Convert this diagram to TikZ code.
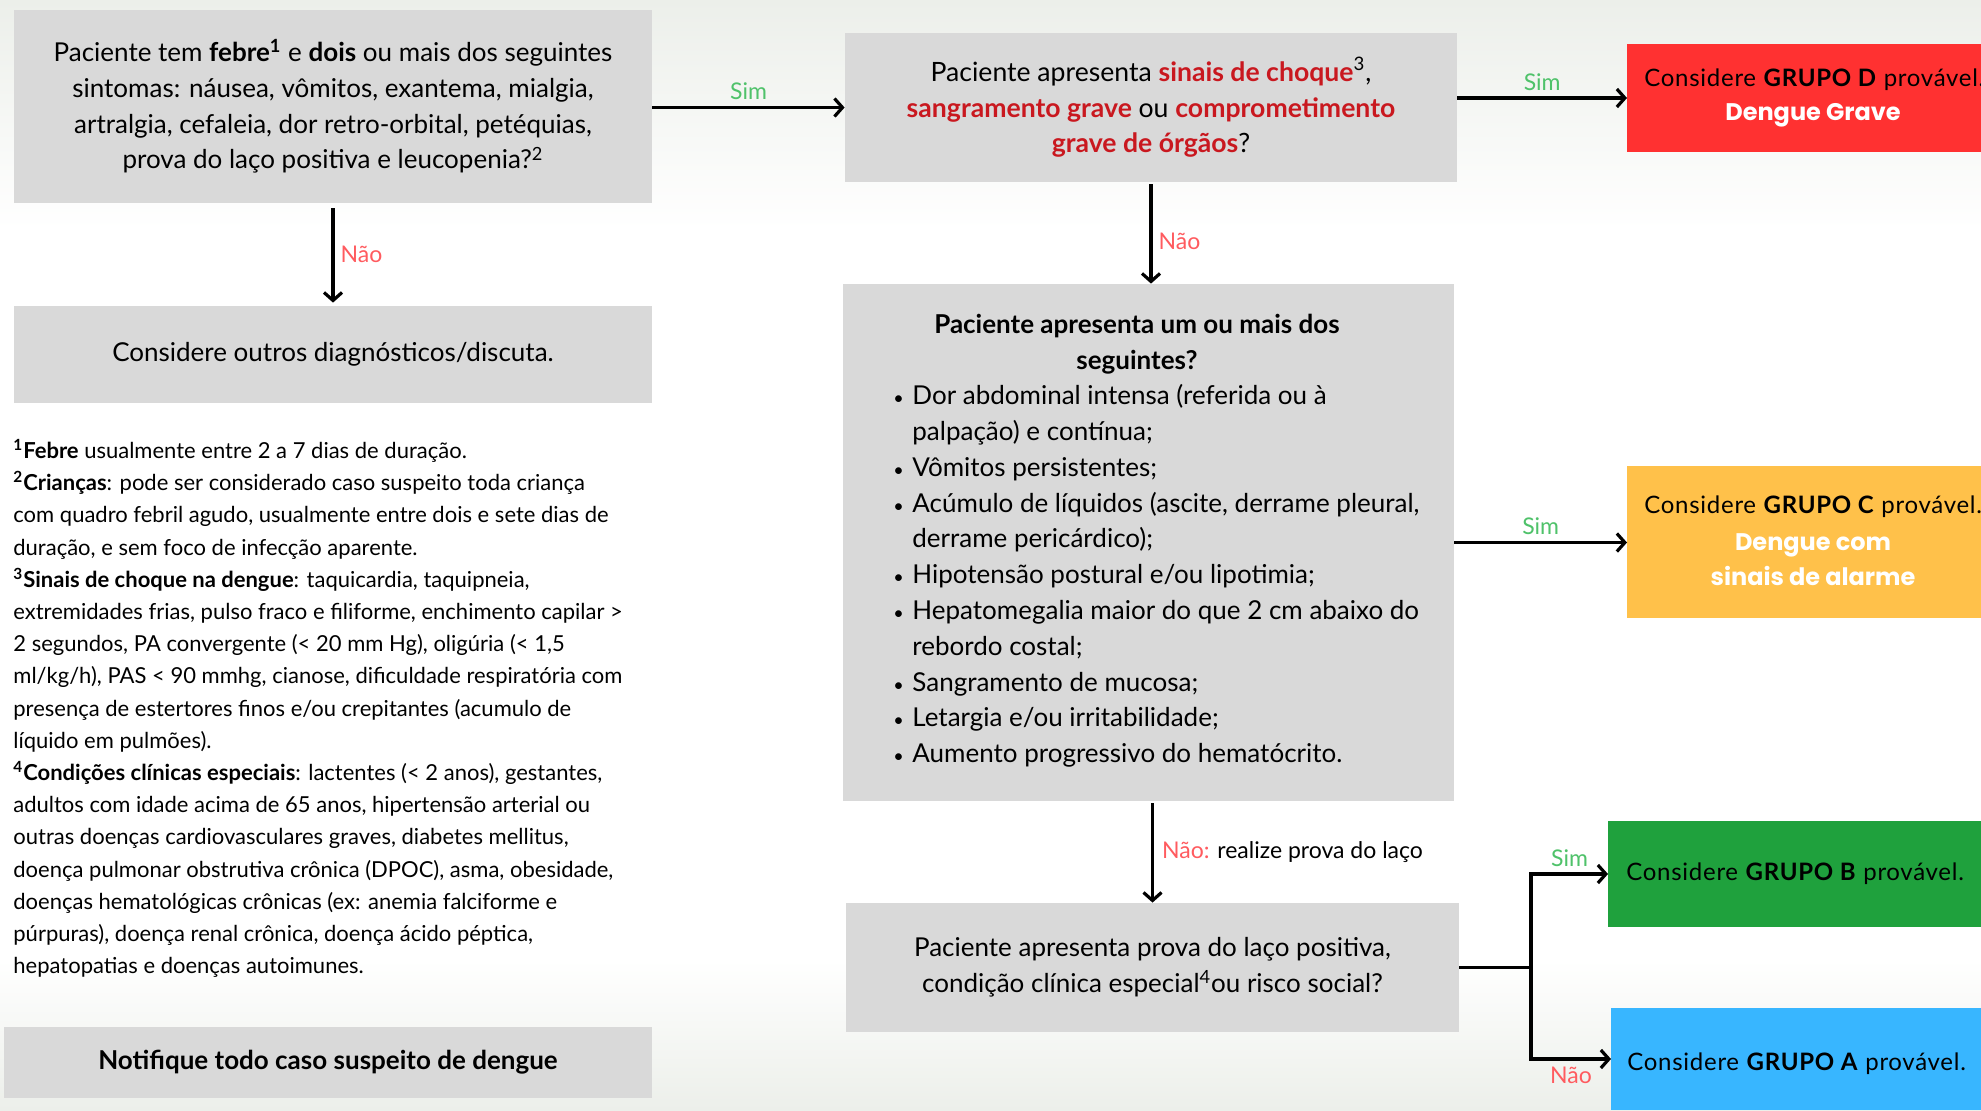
\documentclass[tikz,border=0pt]{standalone}
\usepackage{fontspec}
\setmainfont{Lato}
\newfontfamily\widefont{Lato}[LetterSpace=3]
\newfontfamily\heavyfont{Poppins}
\usetikzlibrary{arrows.meta,calc}

\definecolor{boxgray}{HTML}{D9D9D9}
\definecolor{gred}{HTML}{FF3131}
\definecolor{gorange}{HTML}{FFC14A}
\definecolor{ggreen}{HTML}{1FA13D}
\definecolor{gblue}{HTML}{38B6FF}
\definecolor{dred}{HTML}{C9181F}
\definecolor{simgreen}{HTML}{4FC26A}
\definecolor{naored}{HTML}{FF5B5F}
\definecolor{bgtint}{HTML}{ECEFEA}

\newcommand\boxfont{\fontsize{13}{17.9}\selectfont}
\newcommand\notefont{\fontsize{11}{16.1}\selectfont}
\newcommand\lblfont{\fontsize{11.5}{13}\selectfont}
\newcommand\bitem[1]{\makebox[9.5pt][l]{\small\textbullet}#1}
\newcommand\bcont[1]{\hspace*{9.5pt}#1}

\begin{document}
\begin{tikzpicture}[x=0.5pt,y=-0.5pt,
  gbox/.style={fill=boxgray, inner sep=0pt, align=center, font=\boxfont},
  grpbox/.style={inner sep=0pt, anchor=west, minimum width=200pt},
  grptext/.style={inner sep=0pt, anchor=west, font=\widefont\fontsize{12}{15}\selectfont},
  grpsub/.style={inner sep=0pt, text=white, font=\heavyfont\bfseries\fontsize{12}{16}\selectfont},
  arr/.style={line width=1.6pt, -{Straight Barb[length=4pt,width=9pt]}},
  plain/.style={line width=1.6pt},
  sim/.style={text=simgreen, font=\lblfont, inner sep=3pt},
  nao/.style={text=naored, font=\lblfont, inner sep=3pt}]

\useasboundingbox (0,0) rectangle (1981,1110);
\clip (0,0) rectangle (1981,1110);
\fill[white] (0,0) rectangle (1981,1110);
\shade[top color=bgtint, bottom color=white] (0,0) rectangle (1981,230);
\shade[top color=white, bottom color=bgtint] (0,960) rectangle (1981,1110);

% left column
\node[gbox, minimum width=319pt, minimum height=96.5pt] (q1) at (333,106.5)
  {Paciente tem \textbf{febre}\textsuperscript{\textbf{1}} e \textbf{dois} ou mais dos seguintes\\
   sintomas: náusea, vômitos, exantema, mialgia,\\
   artralgia, cefaleia, dor retro-orbital, petéquias,\\
   prova do laço positiva e leucopenia?\textsuperscript{2}};
\node[gbox, minimum width=319pt, minimum height=48.5pt] (outros) at (333,354.5)
  {Considere outros diagnósticos/discuta.};

\node[inner sep=0pt, anchor=west, align=left, font=\notefont] (notes) at (13,708.5)
  {\textsuperscript{\textbf{1}}\textbf{Febre} usualmente entre 2 a 7 dias de duração.\\
   \textsuperscript{\textbf{2}}\textbf{Crianças}: pode ser considerado caso suspeito toda criança\\
   com quadro febril agudo, usualmente entre dois e sete dias de\\
   duração, e sem foco de infecção aparente.\\
   \textsuperscript{\textbf{3}}\textbf{Sinais de choque na dengue}: taquicardia, taquipneia,\\
   extremidades frias, pulso fraco e filiforme, enchimento capilar >\\
   2 segundos, PA convergente (< 20 mm Hg), oligúria (< 1,5\\
   ml/kg/h), PAS < 90 mmhg, cianose, dificuldade respiratória com\\
   presença de estertores finos e/ou crepitantes (acumulo de\\
   líquido em pulmões).\\
   \textsuperscript{\textbf{4}}\textbf{Condições clínicas especiais}: lactentes (< 2 anos), gestantes,\\
   adultos com idade acima de 65 anos, hipertensão arterial ou\\
   outras doenças cardiovasculares graves, diabetes mellitus,\\
   doença pulmonar obstrutiva crônica (DPOC), asma, obesidade,\\
   doenças hematológicas crônicas (ex: anemia falciforme e\\
   púrpuras), doença renal crônica, doença ácido péptica,\\
   hepatopatias e doenças autoimunes.};

\node[gbox, minimum width=324pt, minimum height=35.5pt, font=\boxfont\bfseries] (notif) at (328,1062.5)
  {Notifique todo caso suspeito de dengue};

% middle column
\node[gbox, minimum width=306pt, minimum height=74.5pt, font=\fontsize{13.3}{17.9}\selectfont] (q2) at (1151,107.5)
  {Paciente apresenta \textcolor{dred}{\textbf{sinais de choque}}\textsuperscript{3},\\
   \textcolor{dred}{\textbf{sangramento grave}} ou \textcolor{dred}{\textbf{comprometimento}}\\
   \textcolor{dred}{\textbf{grave de órgãos}}?};

\node[gbox, minimum width=305.5pt, minimum height=258.5pt] (q3) at (1148.5,542.5) {};
\node[inner sep=0pt, align=center, font=\boxfont\bfseries] (q3title) at (1137,344)
  {Paciente apresenta um ou mais dos\\ seguintes?};
\node[inner sep=0pt, anchor=west, align=left, font=\boxfont] (q3list) at (893,576)
  {\bitem{Dor abdominal intensa (referida ou à}\\
   \bcont{palpação) e contínua;}\\
   \bitem{Vômitos persistentes;}\\
   \bitem{Acúmulo de líquidos (ascite, derrame pleural,}\\
   \bcont{derrame pericárdico);}\\
   \bitem{Hipotensão postural e/ou lipotimia;}\\
   \bitem{Hepatomegalia maior do que 2 cm abaixo do}\\
   \bcont{rebordo costal;}\\
   \bitem{Sangramento de mucosa;}\\
   \bitem{Letargia e/ou irritabilidade;}\\
   \bitem{Aumento progressivo do hematócrito.}};

\node[gbox, minimum width=306.5pt, minimum height=64.5pt] (q4) at (1152.5,967.5)
  {Paciente apresenta prova do laço positiva,\\
   condição clínica especial\textsuperscript{4}ou risco social?};

% right column: groups
\node[grpbox, fill=gred, minimum height=54pt] (gd) at (1627,98) {};
\node[grptext] (gdt) at (1644,80) {Considere \textbf{GRUPO D} provável.};
\node[grpsub] (gds) at (1813,115) {Dengue Grave};

\node[grpbox, fill=gorange, minimum height=76pt] (gc) at (1627,542) {};
\node[grptext] (gct) at (1644,507) {Considere \textbf{GRUPO C} provável.};
\node[grpsub, align=center, font=\heavyfont\bfseries\fontsize{12}{17.5}\selectfont] (gcs) at (1813,560)
  {Dengue com\\ sinais de alarme};

\node[grpbox, fill=ggreen, minimum height=53pt] (gb) at (1608,874) {};
\node[grptext] (gbt) at (1626,874) {Considere \textbf{GRUPO B} provável.};

\node[grpbox, fill=gblue, minimum height=51pt] (ga) at (1611,1059) {};
\node[grptext] (gat) at (1627,1064) {Considere \textbf{GRUPO A} provável.};

% connectors
\draw[arr] (q1.east |- q2.west) -- (q2.west) node[midway, above, sim] {Sim};
\draw[arr, shorten <=2.5pt, shorten >=1.5pt] (q1.south) -- (outros.north)
  node[midway, right, nao] {Não};
\draw[arr] (q2.east |- gd.west) -- (gd.west) node[midway, above, sim] {Sim};
\draw[arr, shorten <=1pt] (q2.south) -- (q2.south |- q3.north) node[midway, right, nao, yshift=-4pt] {Não};
\draw[arr] (q3.east) -- (q3.east -| gc.west) node[midway, above, sim] {Sim};
\draw[arr, shorten <=1pt] (q4.north |- q3.south) -- (q4.north)
  node[midway, right, font=\lblfont, inner sep=4pt] {\textcolor{naored}{Não:} realize prova do laço};

\coordinate (fork) at (1531,967.5);
\draw[plain] (q4.east) -- (fork);
\draw[arr] (fork) |- (gb.west) node[pos=0.75, above, sim] {Sim};
\draw[arr] (fork) |- (ga.west) node[pos=0.75, below, nao] {Não};
\end{tikzpicture}
\end{document}
